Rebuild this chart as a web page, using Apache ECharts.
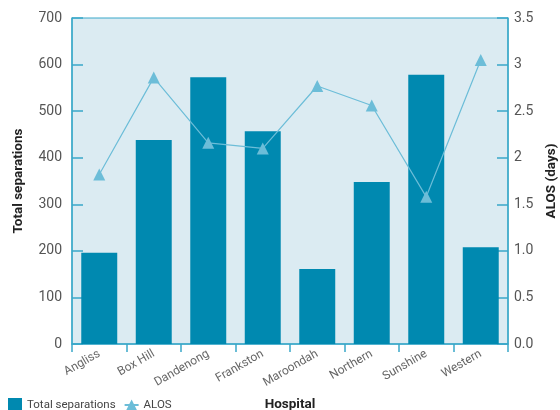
<!DOCTYPE html>
<html><head><meta charset="utf-8">
<script src="https://cdn.jsdelivr.net/npm/echarts@6/dist/echarts.min.js"></script>
<style>html,body{margin:0;padding:0;background:#fff}#c{width:560px;height:410px}</style>
</head><body><div id="c"></div>
<script>
const hospitals = ['Angliss','Box Hill','Dandenong','Frankston','Maroondah','Northern','Sunshine','Western'];
const separations = [196, 438, 573, 457, 161, 348, 578, 208];
const alos = [1.82, 2.86, 2.16, 2.10, 2.77, 2.56, 1.58, 3.05];
const leftTicks = [0, 100, 200, 300, 400, 500, 600, 700];
const rightTickLabels = {'0':'0.0','0.5':'0.5','1':'1.0','1.5':'1.5','2':'2','2.5':'2.5','3':'3','3.5':'3.5'};

const axisCol = '#3aa8c9';
const font = 'Roboto';
const chart = echarts.init(document.getElementById('c'));
chart.setOption({
  animation: false,
  textStyle: {fontFamily: font},
  grid: {left: 72, right: 52, top: 18, bottom: 66, containLabel: false, outerBoundsMode: 'none',
    show: true, backgroundColor: '#dbebf2', borderColor: axisCol, borderWidth: 1},
  legend: {
    left: 8, top: 398, itemGap: 8, itemWidth: 14, itemHeight: 14, padding: 0,
    textStyle: {fontSize: 11.5, color: '#444', fontFamily: font},
    data: [{name: 'Total separations', icon: 'rect'}, {name: 'ALOS'}]
  },
  xAxis: {
    type: 'category', data: hospitals,
    name: 'Hospital', nameLocation: 'middle', nameGap: 54,
    nameTextStyle: {fontWeight: 'bold', fontSize: 13.5, color: '#222', fontFamily: font},
    axisLine: {lineStyle: {color: axisCol, width: 1.5}},
    axisTick: {show: true, length: 8, lineStyle: {color: axisCol, width: 1.5}},
    axisLabel: {rotate: 30, fontSize: 12, color: '#666', margin: 9, fontFamily: font}
  },
  yAxis: [{
    type: 'value', min: 0, max: 700, interval: 100,
    name: 'Total separations', nameLocation: 'middle', nameGap: 46,
    nameTextStyle: {fontWeight: 'bold', fontSize: 13.5, color: '#222', fontFamily: font},
    axisLine: {show: true, lineStyle: {color: axisCol, width: 1.5}},
    axisTick: {show: true, inside: true, length: 11, lineStyle: {color: axisCol, width: 1.5}},
    axisLabel: {fontSize: 14, color: '#555', margin: 10, fontFamily: font},
    splitLine: {show: false}
  }, {
    type: 'value', min: 0, max: 3.5, interval: 0.5, position: 'right',
    name: 'ALOS (days)', nameLocation: 'middle', nameGap: 35,
    nameTextStyle: {fontWeight: 'bold', fontSize: 13.5, color: '#222', fontFamily: font},
    axisLine: {show: true, lineStyle: {color: axisCol, width: 1.5}},
    axisTick: {show: true, inside: true, length: 11, lineStyle: {color: axisCol, width: 1.5}},
    axisLabel: {fontSize: 14, color: '#555', margin: 6, fontFamily: font,
      formatter: v => rightTickLabels[String(v)] ?? String(v)},
    splitLine: {show: false}
  }],
  series: [{
    name: 'Total separations', type: 'bar', data: separations, yAxisIndex: 0,
    barWidth: '66%', itemStyle: {color: '#0089b0'}
  }, {
    name: 'ALOS', type: 'line', data: alos, yAxisIndex: 1,
    symbol: 'triangle', symbolSize: 12,
    lineStyle: {color: '#6cbdd8', width: 1.2},
    itemStyle: {color: '#6cbdd8'}
  }]
});
</script></body></html>
